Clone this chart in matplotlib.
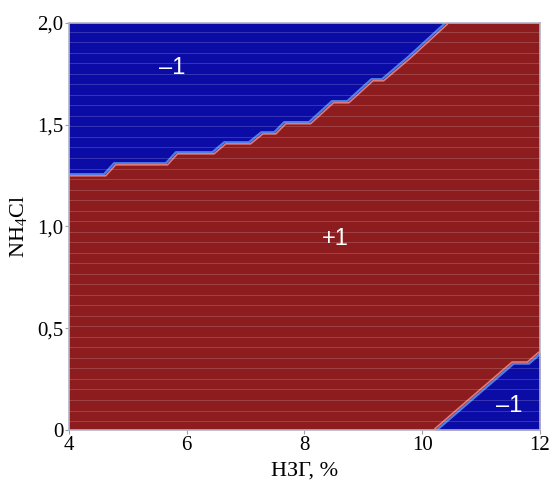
import numpy as np
import matplotlib
matplotlib.use('Agg')
from matplotlib import pyplot as plt
from matplotlib import transforms

# upper class boundary (-1 above it)
upper_x = [4.00, 4.61, 4.78, 5.66, 5.83, 6.45, 6.65, 7.07, 7.28, 7.50, 7.67, 8.09,
           8.48, 8.74, 9.15, 9.33, 9.79, 10.42]
upper_y = [1.253, 1.253, 1.307, 1.307, 1.361, 1.361, 1.410, 1.410, 1.459, 1.459,
           1.509, 1.509, 1.612, 1.612, 1.720, 1.720, 1.833, 2.0]

# lower class boundary (-1 below it)
lower_x = [10.22, 11.54, 11.80, 12.0]
lower_y = [0.0, 0.33, 0.33, 0.38]

labels = ['\u20131', '+1', '\u20131']
label_x = [5.75, 8.52, 11.47]
label_y = [1.78, 0.94, 0.12]

xticks = [4, 6, 8, 10, 12]
yticks = [0, 0.5, 1.0, 1.5, 2.0]
yticklabels = ['0', '0,5', '1,0', '1,5', '2,0']

blue = '#0b0ba6'
red = '#8d1c1e'

plt.rcParams['mathtext.default'] = 'regular'
plt.rcParams['font.family'] = ['Liberation Serif', 'DejaVu Serif']

fig = plt.figure(figsize=(5.54, 4.84), dpi=100)
ax = fig.add_axes([0.1245, 0.1116, 0.8502, 0.8409])
ax.set_facecolor(red)

ax.fill_between(upper_x, upper_y, 2.0, color=blue, lw=0)
ax.fill_between(lower_x, 0, lower_y, color=blue, lw=0)

# soft edges along the boundaries
up = transforms.offset_copy(ax.transData, fig=fig, x=-0.8, y=0.8, units='dots')
dn = transforms.offset_copy(ax.transData, fig=fig, x=0.8, y=-0.8, units='dots')
ax.plot(upper_x, upper_y, color='#4f7fe6', lw=1.6, transform=up, solid_capstyle='butt')
ax.plot(upper_x, upper_y, color='#e07a78', lw=1.2, transform=dn, solid_capstyle='butt')
ax.plot(lower_x, lower_y, color='#4f7fe6', lw=1.6, transform=dn, solid_capstyle='butt')
ax.plot(lower_x, lower_y, color='#e07a78', lw=1.2, transform=up, solid_capstyle='butt')

# faint horizontal raster stripes
for yy in np.arange(0.044, 1.99, 0.0517):
    ax.axhline(yy, color='white', lw=0.6, alpha=0.2)

for t, xx, yy in zip(labels, label_x, label_y):
    ax.text(xx, yy, t, color='white', fontsize=17, ha='center', va='center',
            family=['Liberation Sans', 'DejaVu Sans'])

ax.set_xlim(4, 12)
ax.set_ylim(0, 2)
ax.set_xticks(xticks)
ax.set_yticks(yticks)
ax.set_yticklabels(yticklabels)
ax.tick_params(labelsize=15, color='#a0a0a0', length=3, width=0.8, pad=1)
for s in ax.spines.values():
    s.set_color('#b4b4c8')
    s.set_linewidth(1.2)

ax.set_xlabel('НЗГ, %', fontsize=16, labelpad=5)
ax.set_ylabel('NH$_4$Cl', fontsize=16, labelpad=6)

plt.savefig('out.png', dpi=100)
